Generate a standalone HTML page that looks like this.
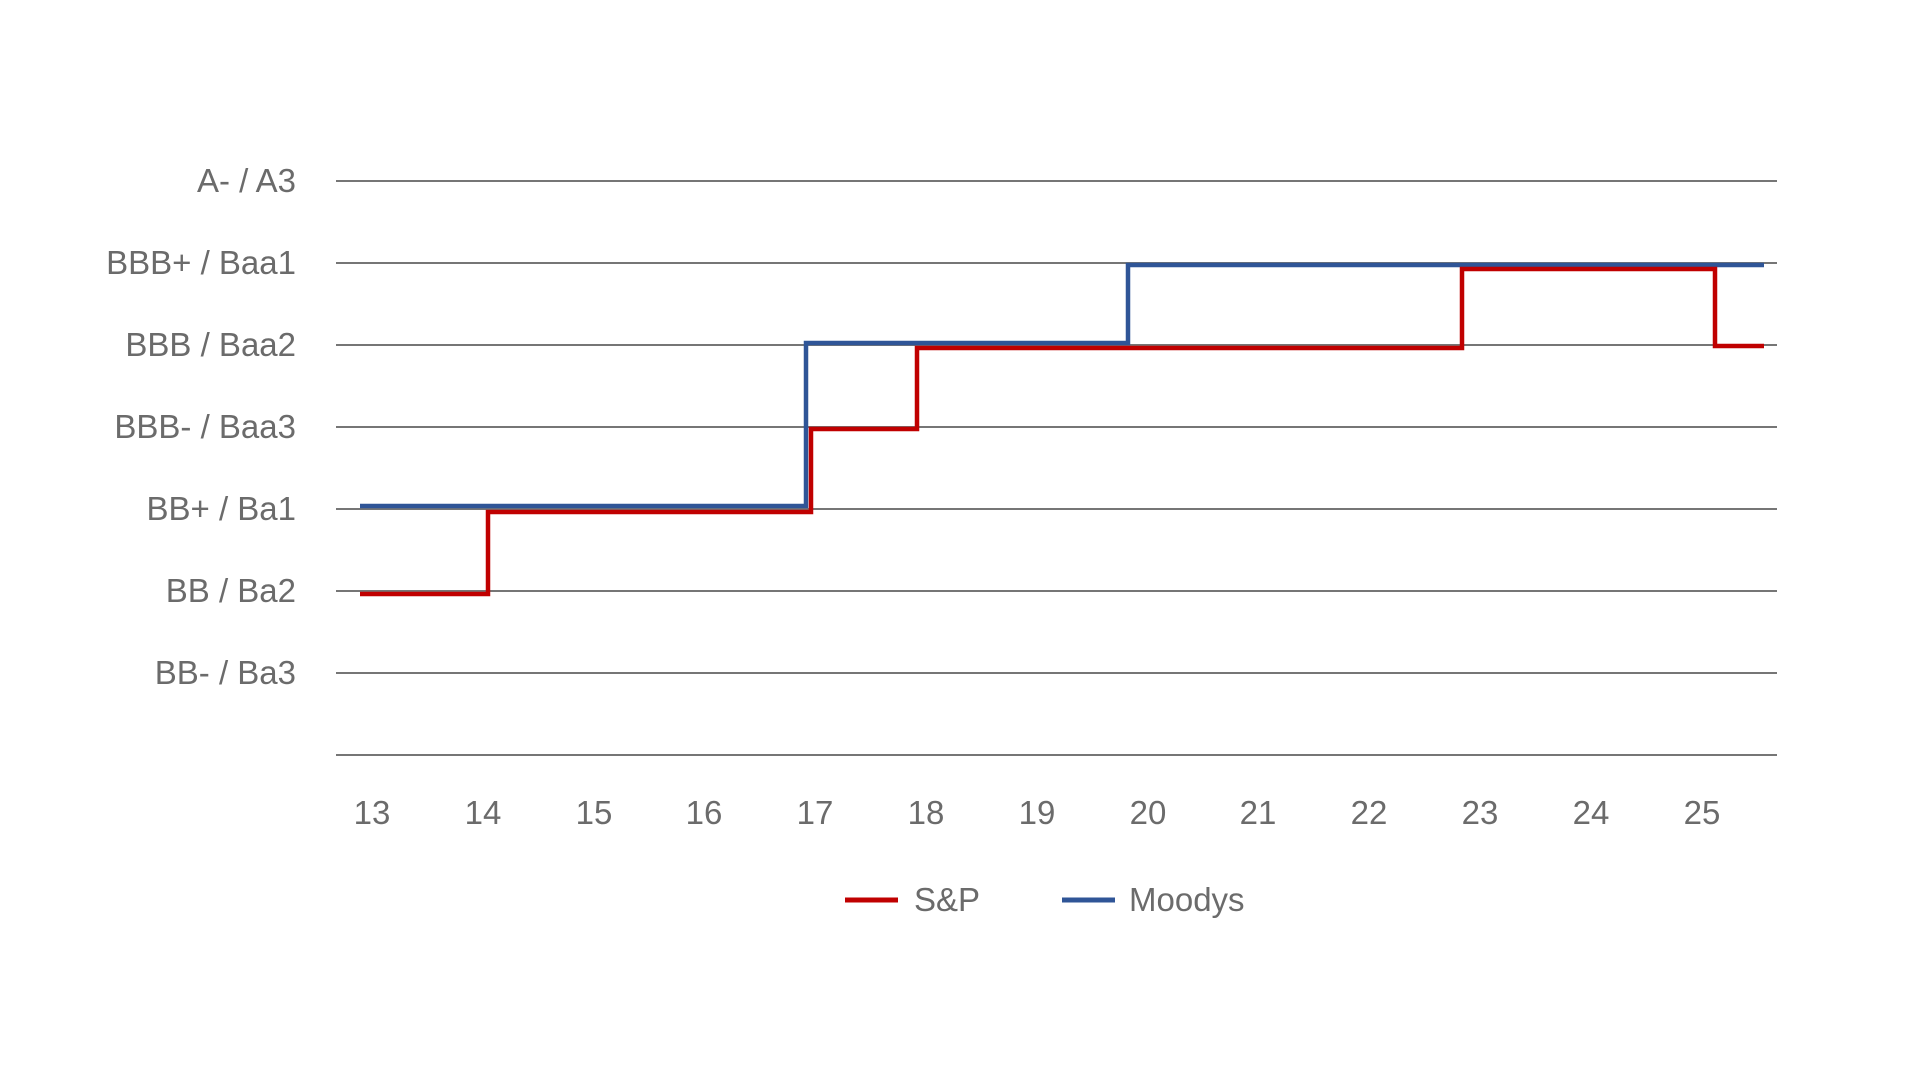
<!DOCTYPE html>
<html><head><meta charset="utf-8"><style>
html,body{margin:0;padding:0;background:#fff;}
svg{display:block;}
text{font-family:"Liberation Sans",sans-serif;fill:#6b6b6b;font-size:33px;}
</style></head><body>
<svg width="1920" height="1080" viewBox="0 0 1920 1080">
<g stroke="#767676" stroke-width="2">
<line x1="336" y1="181" x2="1777" y2="181"/>
<line x1="336" y1="263" x2="1777" y2="263"/>
<line x1="336" y1="345" x2="1777" y2="345"/>
<line x1="336" y1="427" x2="1777" y2="427"/>
<line x1="336" y1="509" x2="1777" y2="509"/>
<line x1="336" y1="591" x2="1777" y2="591"/>
<line x1="336" y1="673" x2="1777" y2="673"/>
<line x1="336" y1="755" x2="1777" y2="755"/>
</g>
<g text-anchor="end">
<text x="296" y="192">A- / A3</text>
<text x="296" y="274">BBB+ / Baa1</text>
<text x="296" y="356">BBB / Baa2</text>
<text x="296" y="438">BBB- / Baa3</text>
<text x="296" y="520">BB+ / Ba1</text>
<text x="296" y="602">BB / Ba2</text>
<text x="296" y="684">BB- / Ba3</text>
</g>
<g text-anchor="middle">
<text x="372" y="824">13</text><text x="483" y="824">14</text><text x="594" y="824">15</text>
<text x="704" y="824">16</text><text x="815" y="824">17</text><text x="926" y="824">18</text>
<text x="1037" y="824">19</text><text x="1148" y="824">20</text><text x="1258" y="824">21</text>
<text x="1369" y="824">22</text><text x="1480" y="824">23</text><text x="1591" y="824">24</text>
<text x="1702" y="824">25</text>
</g>
<polyline fill="none" stroke="#2f5597" stroke-width="4.5" points="360,506 806,506 806,343 1128,343 1128,265 1764,265"/>
<polyline fill="none" stroke="#c00000" stroke-width="4.5" points="360,594 488,594 488,512 811,512 811,429 917,429 917,348 1462,348 1462,269 1715,269 1715,346 1764,346"/>
<line x1="845" y1="900" x2="898" y2="900" stroke="#c00000" stroke-width="5"/>
<text x="914" y="911">S&amp;P</text>
<line x1="1062" y1="900" x2="1115" y2="900" stroke="#2f5597" stroke-width="5"/>
<text x="1129" y="911">Moodys</text>
</svg>
</body></html>
